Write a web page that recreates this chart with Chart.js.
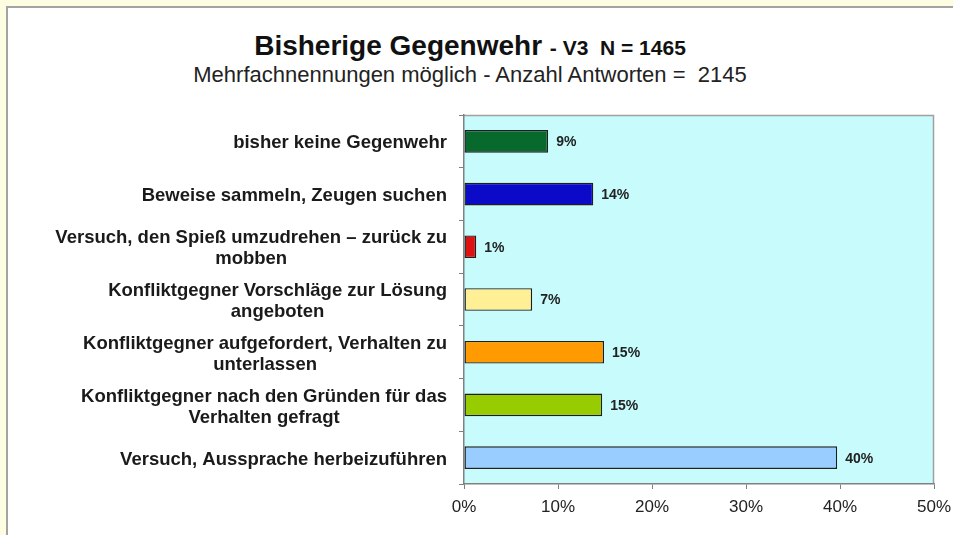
<!DOCTYPE html>
<html><head><meta charset="utf-8">
<script src="https://cdn.jsdelivr.net/npm/chart.js@4/dist/chart.umd.min.js"></script>
<style>
html,body{margin:0;padding:0;width:953px;height:535px;overflow:hidden;background:#fdfde2;}
#panel{position:absolute;left:6px;top:6px;width:960px;height:540px;border:2px solid #a3a3a3;background:#fff;}
#c{position:absolute;left:0;top:0;}
.t{position:absolute;left:0;width:940px;text-align:center;font-family:"Liberation Sans",Arial,sans-serif;color:#000;white-space:nowrap;}
#t1{top:32px;font-size:28px;line-height:28px;font-weight:bold;color:#111;}
#t1 span{font-size:21px;}
#t2{top:64px;font-size:22px;line-height:22px;color:#222;}
</style></head>
<body>
<div id="panel"></div>
<div class="t" id="t1">Bisherige Gegenwehr <span>- V3&nbsp; N = 1465</span></div>
<div class="t" id="t2">Mehrfachnennungen möglich - Anzahl Antworten =&nbsp; 2145</div>
<canvas id="c" width="953" height="535"></canvas>
<script>
const categories = [
  ["bisher keine Gegenwehr"],
  ["Beweise sammeln, Zeugen suchen"],
  ["Versuch, den Spieß umzudrehen – zurück zu", "mobben"],
  ["Konfliktgegner Vorschläge zur Lösung", "angeboten"],
  ["Konfliktgegner aufgefordert, Verhalten zu", "unterlassen"],
  ["Konfliktgegner nach den Gründen für das", "Verhalten gefragt"],
  ["Versuch, Aussprache herbeizuführen"]
];
const values = [8.95, 13.75, 1.3, 7.25, 14.9, 14.7, 39.7];
const valueLabels = ["9%", "14%", "1%", "7%", "15%", "15%", "40%"];
const barColors = ["#07692c", "#0a0ac8", "#dd1111", "#fff096", "#ff9a00", "#96cc00", "#99ccff"];
const xTicks = [0, 10, 20, 30, 40, 50];

const bgPlugin = {
  id: 'bg',
  beforeDraw(chart) {
    const {ctx, chartArea: a} = chart;
    ctx.save();
    ctx.fillStyle = '#c8fbfc';
    ctx.fillRect(a.left, a.top, a.right - a.left, a.bottom - a.top);
    ctx.strokeStyle = '#a0a0a0';
    ctx.lineWidth = 1.5;
    ctx.beginPath();
    ctx.moveTo(a.left, a.top + 0.5);
    ctx.lineTo(a.right - 0.5, a.top + 0.5);
    ctx.lineTo(a.right - 0.5, a.bottom);
    ctx.stroke();
    ctx.restore();
  }
};
const labelPlugin = {
  id: 'labels',
  afterDraw(chart) {
    const {ctx} = chart;
    const ys = chart.scales.y;
    ctx.save();
    ctx.font = 'bold 18.5px "Liberation Sans"';
    ctx.fillStyle = '#1a1a1a';
    ctx.textAlign = 'center';
    ctx.textBaseline = 'middle';
    const rightEdge = ys.right - 17;
    categories.forEach((lines, i) => {
      const yc = ys.getPixelForTick(i) + 2;
      const w = Math.max(...lines.map(l => ctx.measureText(l).width));
      const cx = rightEdge - w / 2;
      const lh = 21;
      const y0 = yc - (lines.length - 1) * lh / 2;
      lines.forEach((l, j) => ctx.fillText(l, cx, y0 + j * lh));
    });
    ctx.font = 'bold 14px "Liberation Sans"';
    ctx.fillStyle = '#222';
    ctx.textAlign = 'left';
    const meta = chart.getDatasetMeta(0);
    meta.data.forEach((bar, i) => {
      ctx.fillText(valueLabels[i], bar.x + 8, bar.y + 1);
    });
    ctx.restore();
  }
};

new Chart(document.getElementById('c'), {
  type: 'bar',
  data: {
    labels: categories.map(c => c.join(' ')),
    datasets: [{
      data: values,
      backgroundColor: barColors,
      borderColor: '#1e1e1e',
      borderWidth: 1.4,
      borderSkipped: false,
      barPercentage: 0.43,
      categoryPercentage: 1
    }]
  },
  options: {
    indexAxis: 'y',
    responsive: false,
    animation: false,
    devicePixelRatio: 1,
    layout: {padding: {top: 115, right: 19, bottom: 0, left: 0}},
    plugins: {legend: {display: false}, tooltip: {enabled: false}, title: {display: false}},
    scales: {
      x: {
        min: 0, max: 50,
        afterBuildTicks(s) { s.ticks = xTicks.map(v => ({value: v})); },
        afterFit(s) { s.height = 51; s.paddingLeft = 0; s.paddingRight = 0; },
        ticks: {
          callback: v => v + '%',
          font: {family: '"Liberation Sans"', size: 17},
          color: '#222',
          padding: 8,
          maxRotation: 0
        },
        grid: {drawOnChartArea: false, drawTicks: true, tickLength: 5, color: '#808080'},
        border: {color: '#808080', width: 1.5}
      },
      y: {
        afterFit(s) { s.width = 464; s.paddingTop = 0; s.paddingBottom = 0; },
        ticks: {display: false},
        grid: {offset: true, drawOnChartArea: false, drawTicks: true, tickLength: 5, color: '#808080'},
        border: {color: '#808080', width: 1.5}
      }
    }
  },
  plugins: [bgPlugin, labelPlugin]
});
</script>
</body></html>
